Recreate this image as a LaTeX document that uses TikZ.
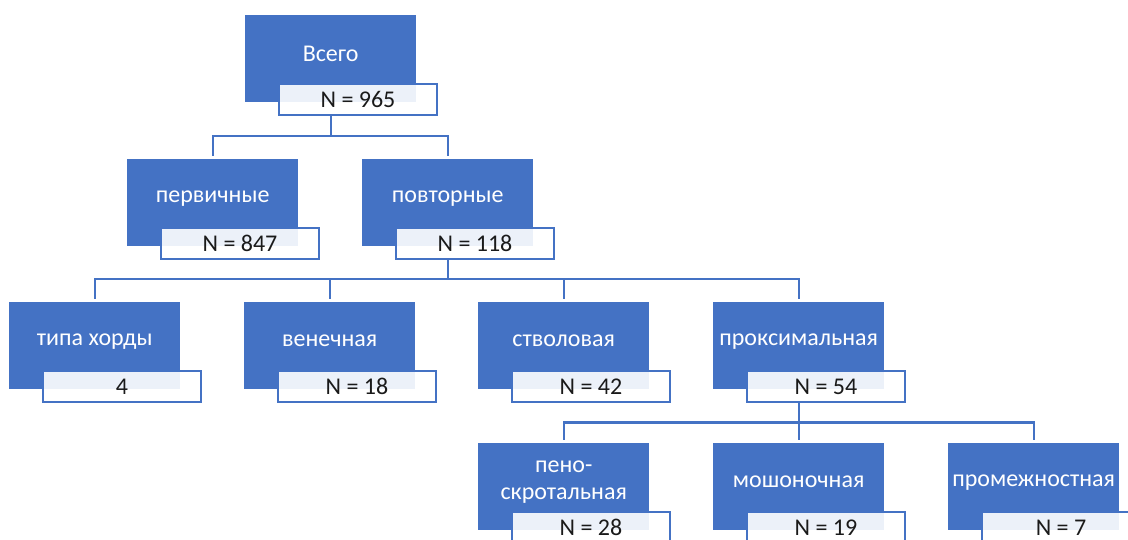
\documentclass[tikz,border=0pt]{standalone}
\usepackage{fontspec}
\setmainfont{Carlito}
\usetikzlibrary{calc}
\definecolor{obl}{HTML}{4472C4}
\definecolor{txt}{HTML}{1A1A1A}
\tikzset{
  bluebox/.style={draw=none, fill=obl, minimum width=171pt, minimum height=87pt, inner sep=0pt, anchor=north west},
  bluetext/.style={text=white, font=\fontsize{24}{27}\selectfont, align=center, inner sep=0pt},
  labbox/.style={draw=obl, line width=2pt, fill=white, fill opacity=0.9, text opacity=1, text=txt,
     minimum width=158pt, minimum height=31pt, inner sep=0pt, anchor=north west, font=\fontsize{24}{27}\selectfont},
  conn/.style={draw=obl, line width=2.4pt}
}
\newcommand{\mybox}[5]{%
  \node[bluebox] (#1) at (#2,#3) {};
  \node[bluetext] (#1-t) at ($(#1.center)+(0,4.5pt)$) {#4};
  \node[labbox] (#1-l) at (#2+33,#3+68) {#5};
}
\begin{document}
\begin{tikzpicture}[x=1pt,y=-1pt]
\useasboundingbox (0,0) rectangle (1128,539);
\clip (0,0) rectangle (1128,539);
\mybox{a}{245}{15}{Всего}{N = 965}
\mybox{b1}{127}{159}{первичные}{N = 847}
\mybox{b2}{362}{159}{повторные}{N = 118}
\mybox{c1}{9}{302}{типа хорды}{4}
\mybox{c2}{244}{302}{венечная}{N = 18}
\mybox{c3}{478}{302}{стволовая}{N = 42}
\mybox{c4}{713}{302}{проксимальная}{N = 54}
\mybox{d1}{478}{443}{пено-\\скротальная}{N = 28}
\mybox{d2}{713}{443}{мошоночная}{N = 19}
\mybox{d3}{948}{443}{промежностная}{N = 7}
\coordinate (bus1) at (0,136);
\coordinate (bus2) at (0,279);
\coordinate (bus3) at (0,422.5);
\foreach \c in {b1,b2}{
  \draw[conn] (a-l.south -| a.north) -- (bus1 -| a.north) -| ([yshift=3pt]\c.north);
}
\foreach \c in {c1,c2,c3,c4}{
  \draw[conn] (b2-l.south -| b2.north) -- (bus2 -| b2.north) -| ([yshift=3pt]\c.north);
}
\foreach \c in {d1,d2,d3}{
  \draw[conn] (c4-l.south -| c4.north) -- (bus3 -| c4.north) -| ([yshift=3pt]\c.north);
}
\end{tikzpicture}
\end{document}
